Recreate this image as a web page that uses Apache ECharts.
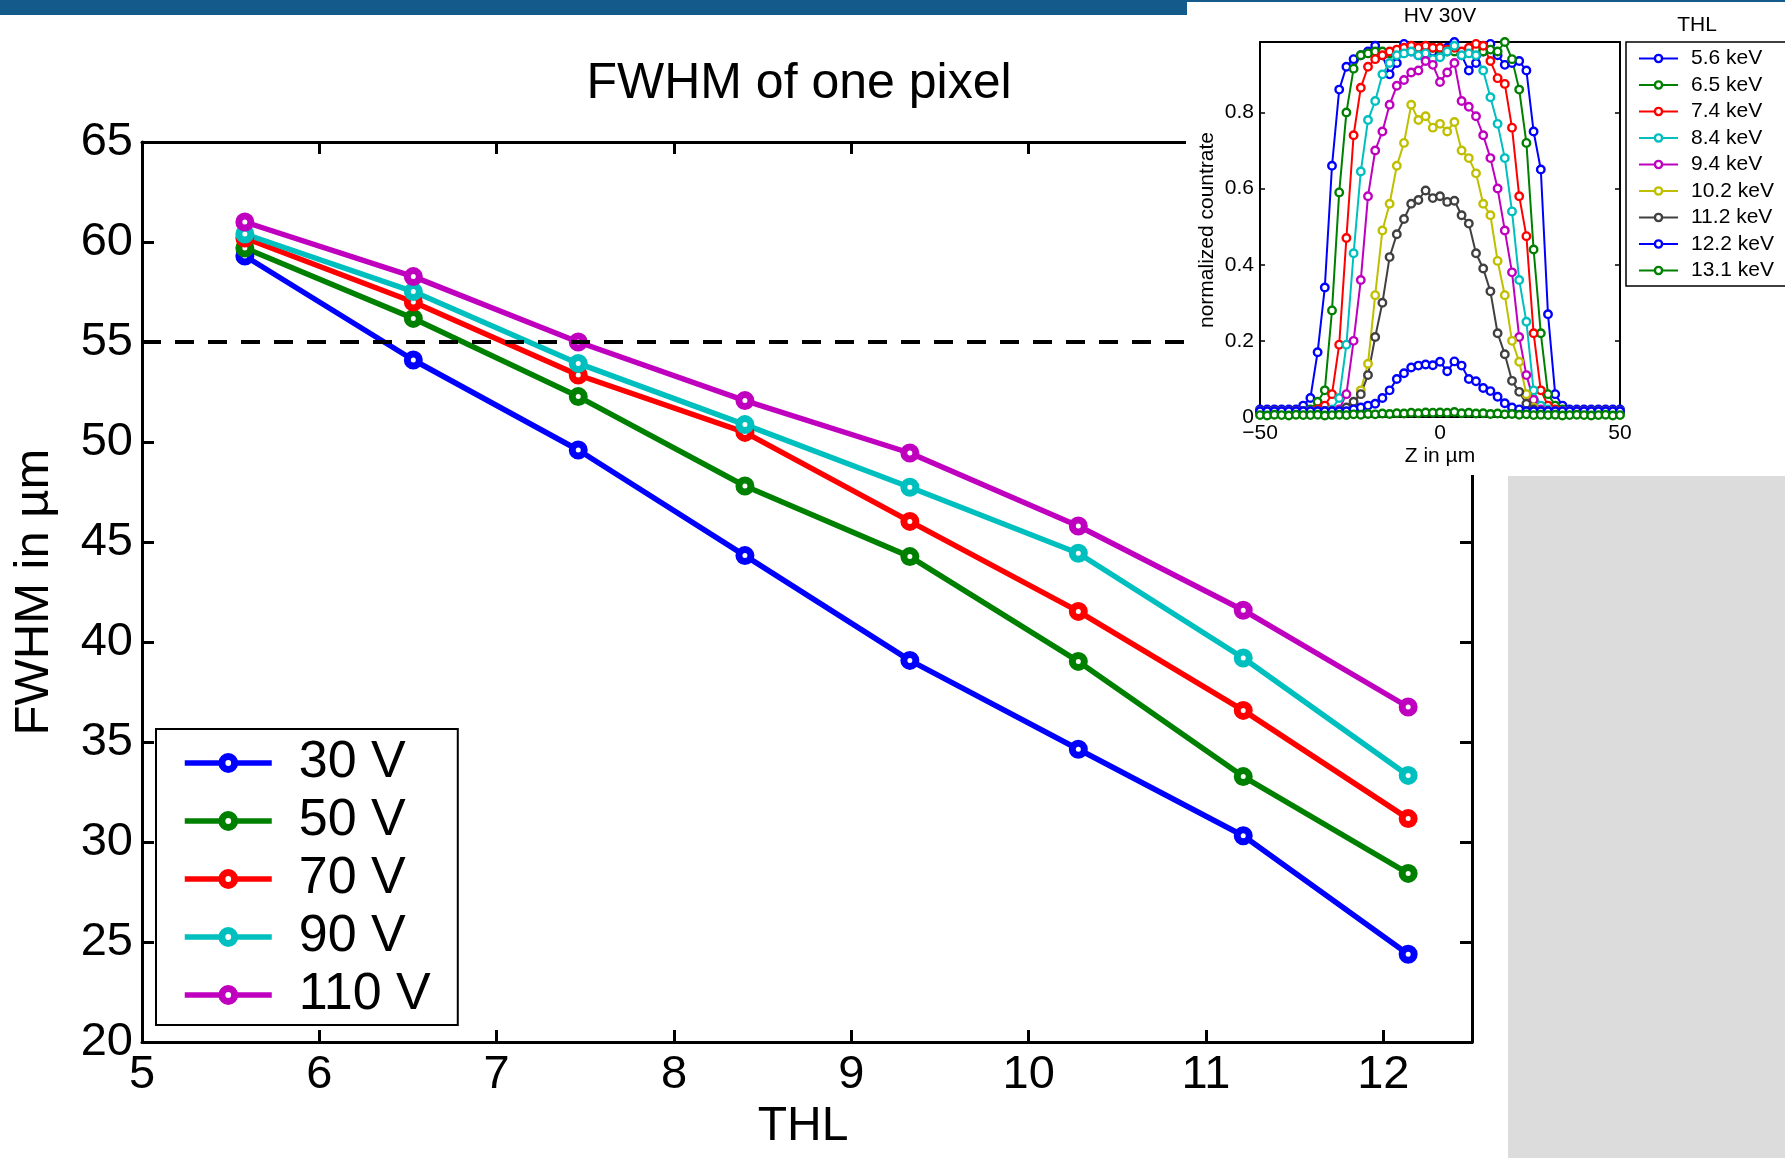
<!DOCTYPE html>
<html>
<head>
<meta charset="utf-8">
<script src="https://cdn.jsdelivr.net/npm/echarts@6/dist/echarts.min.js"></script>
<style>
html,body{margin:0;padding:0;background:#ffffff;}
#chart{width:1785px;height:1158px;}
</style>
</head>
<body>
<div id="chart"></div>
<script>
// ---- main chart data ----
const THL = [5.58, 6.53, 7.46, 8.40, 9.33, 10.28, 11.21, 12.14];
const MAIN_NAMES = ['30 V', '50 V', '70 V', '90 V', '110 V'];
const V30  = [59.3, 54.1, 49.6, 44.32, 39.08, 34.64, 30.31, 24.39];
const V50  = [59.7, 56.18, 52.27, 47.8, 44.27, 39.03, 33.27, 28.43];
const V70  = [60.2, 57.0, 53.35, 50.48, 46.03, 41.53, 36.58, 31.17];
const V90  = [60.4, 57.52, 53.93, 50.87, 47.74, 44.44, 39.2, 33.33];
const V110 = [61.0, 58.27, 55.0, 52.07, 49.45, 45.8, 41.59, 36.75];
const Y_TICKS = [20, 25, 30, 35, 40, 45, 50, 55, 60, 65];
const X_TICKS = [5, 6, 7, 8, 9, 10, 11, 12];
const LIMIT = 55;

// ---- inset data (HV 30V) ----
const Z = [-50,-48,-46,-44,-42,-40,-38,-36,-34,-32,-30,-28,-26,-24,-22,-20,-18,-16,-14,-12,-10,-8,-6,-4,-2,0,2,4,6,8,10,12,14,16,18,20,22,24,26,28,30,32,34,36,38,40,42,44,46,48,50];
const INSET_NAMES = ['5.6 keV','6.5 keV','7.4 keV','8.4 keV','9.4 keV','10.2 keV','11.2 keV','12.2 keV','13.1 keV'];
const K56  = [.02,.02,.02,.02,.02, .02,.03,.05,.17,.34, .66,.86,.92,.94,.95, .96,.975,.95,.90,.93, .98,.96,.95,.94,.96, .95,.97,.985,.95,.91, .93,.96,.98,.95,.925, .93,.935,.91,.75,.65, .27,.06,.03,.02,.02, .02,.02,.02,.02,.02, .02];
const K65  = [.015,.015,.015,.015,.015, .015,.015,.02,.04,.07, .28,.59,.80,.915,.95, .955,.96,.96,.955,.96, .96,.965,.96,.965,.97, .965,.96,.96,.955,.96, .965,.96,.965,.96,.985, .94,.86,.72,.44,.22, .06,.03,.02,.015,.015, .015,.015,.015,.015,.015, .015];
const K74  = [.015,.015,.015,.015,.015, .015,.015,.015,.02,.03, .06,.19,.47,.74,.865, .92,.94,.95,.96,.965, .97,.975,.97,.975,.97, .97,.965,.97,.96,.97, .98,.975,.935,.89,.875, .76,.58,.475,.22,.07, .03,.02,.015,.015,.015, .015,.015,.015,.015,.015, .015];
const K84  = [.015,.015,.015,.015,.015, .015,.015,.015,.015,.015, .02,.05,.19,.43,.645, .78,.83,.90,.93,.95, .955,.96,.95,.955,.94, .945,.96,.975,.95,.955, .95,.91,.84,.77,.68, .54,.36,.25,.07,.03, .02,.015,.015,.015,.015, .015,.015,.015,.015,.015, .015];
const K94  = [.015,.015,.015,.015,.015, .015,.015,.015,.015,.015, .015,.02,.06,.20,.36, .58,.70,.75,.82,.87, .885,.905,.91,.935,.925, .88,.905,.93,.83,.815, .79,.74,.68,.60,.49, .38,.21,.11,.045,.02, .015,.015,.015,.015,.015, .015,.015,.015,.015,.015, .015];
const K102 = [.015,.015,.015,.015,.015, .015,.015,.015,.015,.015, .015,.015,.02,.03,.07, .14,.32,.49,.56,.66, .72,.82,.78,.79,.76, .77,.75,.775,.70,.68, .64,.56,.53,.41,.32, .20,.145,.06,.025,.015, .015,.015,.015,.015,.015, .015,.015,.015,.015,.015, .015];
const K112 = [.015,.015,.015,.015,.015, .015,.015,.015,.015,.015, .015,.015,.025,.04,.06, .11,.21,.30,.42,.48, .52,.56,.57,.595,.575, .58,.565,.568,.53,.508, .43,.39,.33,.22,.165, .095,.066,.035,.02,.015, .015,.015,.015,.015,.015, .015,.015,.015,.015,.015, .015];
const K122 = [.015,.015,.015,.015,.015, .015,.015,.015,.015,.015, .015,.015,.015,.02,.025, .03,.035,.05,.07,.10, .115,.13,.135,.138,.136, .145,.12,.146,.135,.10, .094,.076,.068,.053,.036, .025,.02,.015,.015,.015, .015,.015,.015,.015,.015, .015,.015,.015,.015,.015, .015];
const K131 = [.005,.004,.006,.005,.004, .006,.005,.005,.006,.004, .005,.006,.005,.007,.006, .008,.007,.009,.008,.010, .009,.011,.010,.012,.011, .012,.011,.013,.010,.011, .009,.010,.008,.009,.007, .008,.006,.007,.005,.006, .005,.006,.004,.005,.006, .005,.004,.005,.006,.004, .005];
const INSET_Y_TICKS = [0, 0.2, 0.4, 0.6, 0.8];

const MAIN_COLORS = ['#0000ff', '#008000', '#ff0000', '#00bfbf', '#bf00bf'];
const INSET_COLORS = ['#0000ff', '#008000', '#ff0000', '#00bfbf', '#bf00bf', '#bfbf00', '#404040', '#0000ff', '#008000'];

const FF = "'Liberation Sans', Arial, Helvetica, sans-serif";
const chart = echarts.init(document.getElementById('chart'), null, {renderer: 'canvas'});

const mainVals = [V30, V50, V70, V90, V110];
const insetVals = [K56, K65, K74, K84, K94, K102, K112, K122, K131];

const series = [];
mainVals.forEach((vals, i) => {
  const s = {
    name: MAIN_NAMES[i], type: 'line', xAxisIndex: 0, yAxisIndex: 0,
    data: THL.map((x, j) => [x, vals[j]]),
    symbol: 'circle', symbolSize: 12,
    lineStyle: {color: MAIN_COLORS[i], width: 5.5},
    itemStyle: {color: '#ffffff', borderColor: MAIN_COLORS[i], borderWidth: 7},
    z: 3
  };
  if (i === 0) {
    s.markLine = {
      silent: true, symbol: 'none', label: {show: false},
      lineStyle: {color: '#000', width: 4, type: [19, 14]},
      data: [{yAxis: LIMIT}]
    };
  }
  series.push(s);
});
insetVals.forEach((vals, i) => {
  series.push({
    name: INSET_NAMES[i], type: 'line', xAxisIndex: 2, yAxisIndex: 2,
    data: Z.map((z, j) => [z, vals[j]]),
    symbol: 'circle', symbolSize: 7.5,
    lineStyle: {color: INSET_COLORS[i], width: 2},
    itemStyle: {color: '#ffffff', borderColor: INSET_COLORS[i], borderWidth: 2.4},
    z: 40, clip: false
  });
});

function mainAxisCommon(extra) {
  return Object.assign({
    type: 'value', gridIndex: 0,
    axisLine: {show: true, onZero: false, lineStyle: {color: '#000', width: 3}},
    axisTick: {show: true, inside: true, length: 12, lineStyle: {color: '#000', width: 3}},
    splitLine: {show: false}
  }, extra);
}
function insetAxisCommon(extra) {
  return Object.assign({
    type: 'value', gridIndex: 1, z: 40,
    axisLine: {show: true, onZero: false, lineStyle: {color: '#000', width: 2}},
    axisTick: {show: true, inside: true, length: 5, lineStyle: {color: '#000', width: 1.5}},
    splitLine: {show: false}
  }, extra);
}

const option = {
  animation: false,
  backgroundColor: '#ffffff',
  grid: [
    {left: 142, top: 142, width: 1330, height: 900},
    {left: 1260, top: 42, width: 360, height: 375}
  ],
  xAxis: [
    mainAxisCommon({position: 'bottom', min: X_TICKS[0], max: 12.5, interval: 1,
      axisLabel: {color: '#000', fontSize: 47, fontFamily: FF, margin: 10, showMaxLabel: false,
        formatter: v => X_TICKS.indexOf(v) >= 0 ? String(v) : ''}}),
    mainAxisCommon({position: 'top', min: X_TICKS[0], max: 12.5, interval: 1, axisLabel: {show: false}}),
    insetAxisCommon({position: 'bottom', min: -50, max: 50, interval: 50,
      axisLabel: {color: '#000', fontSize: 21, fontFamily: FF, margin: 6,
        formatter: v => v < 0 ? '\u2212' + (-v) : String(v)}}),
    insetAxisCommon({position: 'top', min: -50, max: 50, interval: 50, axisLabel: {show: false}})
  ],
  yAxis: [
    mainAxisCommon({position: 'left', min: Y_TICKS[0], max: 65, interval: 5,
      axisLabel: {color: '#000', fontSize: 47, fontFamily: FF, margin: 9,
        formatter: v => String(v)}}),
    mainAxisCommon({position: 'right', min: Y_TICKS[0], max: 65, interval: 5, axisLabel: {show: false}}),
    insetAxisCommon({position: 'left', min: 0, max: 0.985, interval: 0.2,
      axisLabel: {color: '#000', fontSize: 21, fontFamily: FF, margin: 6, showMaxLabel: false,
        formatter: v => {
          const k = INSET_Y_TICKS.findIndex(t => Math.abs(t - v) < 1e-6);
          return k < 0 ? '' : (INSET_Y_TICKS[k] === 0 ? '0' : INSET_Y_TICKS[k].toFixed(1));
        }}}),
    insetAxisCommon({position: 'right', min: 0, max: 0.985, interval: 0.2, axisLabel: {show: false}})
  ],
  legend: [
    {
      data: MAIN_NAMES, orient: 'vertical', left: 156, top: 729,
      padding: [8, 27, 4, 26], itemGap: 6, itemWidth: 87, itemHeight: 16,
      borderColor: '#000', borderWidth: 2, backgroundColor: '#fff',
      itemStyle: {borderWidth: 7},
      lineStyle: {width: 5.5},
      textStyle: {color: '#000', fontSize: 52, fontFamily: FF, padding: [0, 0, 0, 22]},
      selectedMode: false, z: 5
    },
    {
      data: INSET_NAMES, orient: 'vertical', left: 1626, top: 42,
      padding: [6, 40, 5, 12], itemGap: 5.5, itemWidth: 39, itemHeight: 9,
      borderColor: '#000', borderWidth: 1.5, backgroundColor: '#fff',
      itemStyle: {borderWidth: 2.4},
      lineStyle: {width: 2},
      textStyle: {color: '#000', fontSize: 21, fontFamily: FF, padding: [0, 0, 0, 8]},
      selectedMode: false, z: 45
    }
  ],
  graphic: {
    elements: [
      {type: 'rect', z: 100, shape: {x: 0, y: 0, width: 1187, height: 15}, style: {fill: '#145b8b'}},
      {type: 'rect', z: 100, shape: {x: 1187, y: 0, width: 598, height: 2}, style: {fill: '#145b8b'}},
      {type: 'rect', z: 30, shape: {x: 1186, y: 2, width: 599, height: 473}, style: {fill: '#ffffff'}},
      {type: 'rect', z: 1, shape: {x: 1508, y: 476, width: 277, height: 682}, style: {fill: '#dcdcdc'}},
      {type: 'text', z: 10, x: 799, y: 84, style: {text: 'FWHM of one pixel', fill: '#000', font: '50px ' + FF, textAlign: 'center', textVerticalAlign: 'middle'}},
      {type: 'text', z: 10, x: 803, y: 1127, style: {text: 'THL', fill: '#000', font: '48px ' + FF, textAlign: 'center', textVerticalAlign: 'middle'}},
      {type: 'text', z: 10, x: 34, y: 592, rotation: Math.PI / 2, style: {text: 'FWHM in \u00b5m', fill: '#000', font: '49px ' + FF, textAlign: 'center', textVerticalAlign: 'middle'}},
      {type: 'text', z: 50, x: 1440, y: 16, style: {text: 'HV 30V', fill: '#000', font: '21px ' + FF, textAlign: 'center', textVerticalAlign: 'middle'}},
      {type: 'text', z: 50, x: 1440, y: 456, style: {text: 'Z in \u00b5m', fill: '#000', font: '21px ' + FF, textAlign: 'center', textVerticalAlign: 'middle'}},
      {type: 'text', z: 50, x: 1207, y: 230, rotation: Math.PI / 2, style: {text: 'normalized countrate', fill: '#000', font: '21px ' + FF, textAlign: 'center', textVerticalAlign: 'middle'}},
      {type: 'text', z: 50, x: 1697, y: 25, style: {text: 'THL', fill: '#000', font: '21px ' + FF, textAlign: 'center', textVerticalAlign: 'middle'}}
    ]
  },
  series: series
};
chart.setOption(option);
</script>
</body>
</html>
